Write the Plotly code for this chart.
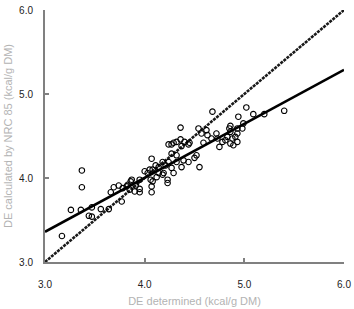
import plotly.graph_objects as go
import numpy as np

# Determined DE (kcal/g DM)
de_determined = [
    3.17, 3.26, 3.36, 3.37, 3.37, 3.44, 3.47, 3.47, 3.56, 3.64,
    3.66, 3.69, 3.74, 3.77, 3.78, 3.83, 3.86, 3.82, 3.87, 3.85,
    3.90, 3.95, 3.95, 3.91, 3.95, 4.00, 4.03, 4.05, 4.08, 4.07,
    4.06, 4.07, 4.07, 4.08, 4.12, 4.11, 4.14, 4.14, 4.18, 4.19,
    4.18, 4.21, 4.23, 4.23, 4.24, 4.24, 4.27, 4.29, 4.27, 4.29,
    4.27, 4.32, 4.32, 4.32, 4.36, 4.37, 4.36, 4.40, 4.39, 4.37,
    4.44, 4.44, 4.45, 4.50, 4.52, 4.55, 4.54, 4.57, 4.59, 4.62,
    4.63, 4.67, 4.68, 4.72, 4.73, 4.75, 4.78, 4.81, 4.83, 4.85,
    4.86, 4.88, 4.86, 4.89, 4.91, 4.93, 4.93, 4.93, 4.94, 4.98,
    4.99, 5.02, 5.09, 5.20, 5.40, 4.86,
]
# DE calculated by NRC 85 (kcal/g DM)
de_nrc85 = [
    3.31, 3.62, 3.62, 4.09, 3.89, 3.55, 3.65, 3.54, 3.63, 3.63,
    3.83, 3.89, 3.91, 3.72, 3.88, 3.92, 3.96, 3.90, 3.98, 3.86,
    3.84, 3.87, 3.83, 3.91, 3.98, 4.08, 4.06, 4.10, 4.10, 4.23,
    3.98, 3.90, 3.83, 3.96, 4.01, 4.15, 4.13, 4.06, 4.19, 4.06,
    4.04, 4.15, 3.98, 3.94, 4.19, 4.40, 4.40, 4.42, 4.29, 4.06,
    4.12, 4.27, 4.19, 4.43, 4.46, 4.38, 4.60, 4.43, 4.21, 4.13,
    4.40, 4.19, 4.42, 4.24, 4.27, 4.13, 4.59, 4.53, 4.42, 4.57,
    4.51, 4.47, 4.79, 4.53, 4.47, 4.37, 4.43, 4.45, 4.49, 4.59,
    4.55, 4.47, 4.41, 4.39, 4.49, 4.43, 4.53, 4.59, 4.73, 4.59,
    4.65, 4.84, 4.76, 4.76, 4.80, 4.62,
]

axis_range = [3.0, 6.0]
tick_vals = [3.0, 4.0, 5.0, 6.0]
tick_text = ["3.0", "4.0", "5.0", "6.0"]

# regression line parameters (y = a + b*x)
reg_intercept = 1.43
reg_slope = 0.643

line_x = np.array(axis_range)
reg_y = reg_intercept + reg_slope * line_x

fig = go.Figure()
fig.add_trace(go.Scatter(
    x=line_x, y=line_x, mode="lines",
    line=dict(color="#1a1a1a", width=2.6, dash="3px,1px"),
    hoverinfo="skip", showlegend=False))
fig.add_trace(go.Scatter(
    x=line_x, y=reg_y, mode="lines",
    line=dict(color="black", width=2.6),
    hoverinfo="skip", showlegend=False))
fig.add_trace(go.Scatter(
    x=de_determined, y=de_nrc85, mode="markers",
    marker=dict(symbol="circle-open", size=5.5, color="black",
                line=dict(width=1.1, color="black")),
    showlegend=False))

axis_common = dict(
    range=axis_range, tickvals=tick_vals, ticktext=tick_text,
    showgrid=False, zeroline=False, showline=True,
    linecolor="#808080", linewidth=2,
    ticks="inside", ticklen=4, tickcolor="#808080", tickwidth=1.5,
    ticklabeloverflow="allow",
    tickfont=dict(family="Liberation Sans, Arial", size=10, color="#222"),
)

fig.update_layout(
    width=354, height=309,
    margin=dict(l=45, r=3, t=10, b=47),
    paper_bgcolor="white", plot_bgcolor="white",
    xaxis=dict(**axis_common, ticklabelstandoff=12,
               title=dict(text="DE determined (kcal/g DM)", standoff=8,
                          font=dict(family="Liberation Sans, Arial", size=11, color="#b3b3b3"))),
    yaxis=dict(**axis_common, ticklabelstandoff=8,
               title=dict(text="DE calculated by NRC 85 (kcal/g DM)", standoff=4,
                          font=dict(family="Liberation Sans, Arial", size=11, color="#b3b3b3"))),
)

fig.write_html("out.html")
